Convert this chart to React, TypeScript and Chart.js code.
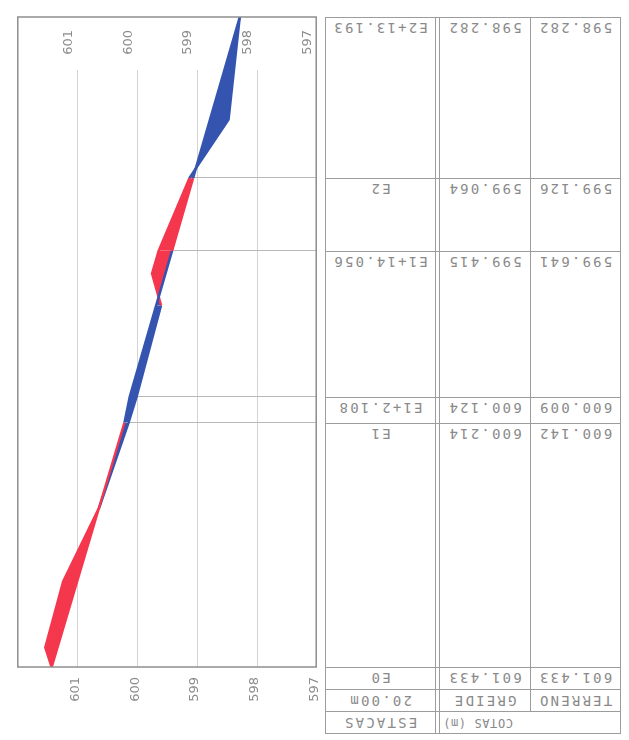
import React, { useEffect, useRef, useState } from "react";
import { Chart, registerables } from "chart.js";

Chart.register(...registerables);

// ---- table (stations) ----
const stationLabels = ["E0", "E1", "E1+2.108", "E1+14.056", "E2", "E2+13.193"];
const stationDist = [0, 20, 22.108, 34.056, 40, 53.193];
const greideAtStations = [601.433, 600.214, 600.124, 599.415, 599.064, 598.282];
const terrenoAtStations = [601.433, 600.142, 600.009, 599.641, 599.126, 598.282];
const headerRow1 = ["ESTACAS", "COTAS (m)"];
const headerRow2 = ["20.00m", "GREIDE", "TERRENO"];

// ---- profile lines ----
const greideDist = [0, 20, 22.108, 34.056, 40, 53.193];
const greideElev = [601.433, 600.214, 600.124, 599.415, 599.064, 598.282];
const terrenoDist = [0, 1.6, 7, 13, 20, 22.108, 29.6, 32.2, 34.056, 40, 44.8, 53.193];
const terrenoElev = [601.433, 601.54, 601.24, 600.64, 600.142, 600.009, 599.6, 599.75, 599.641, 599.126, 598.47, 598.282];

// ---- elevation axis ----
const elevTicks = [597, 598, 599, 600, 601];
const elevMin = 597;
const elevMax = 602;

const RED = "rgb(245, 55, 78)";
const BLUE = "rgb(52, 84, 176)";
const CW = 740;
const CH = 334;

function interp(ds: number[], vs: number[], d: number) {
  for (let i = 0; i < ds.length - 1; i++) {
    if (d >= ds[i] && d <= ds[i + 1]) {
      const t = (d - ds[i]) / (ds[i + 1] - ds[i]);
      return vs[i] + t * (vs[i + 1] - vs[i]);
    }
  }
  return vs[vs.length - 1];
}

const segColor = (ctx: any) => {
  const d = (ctx.p0.parsed.x + ctx.p1.parsed.x) / 2;
  const t = interp(terrenoDist, terrenoElev, d);
  const g = interp(greideDist, greideElev, d);
  return t >= g ? RED : BLUE;
};

const framePlugin = {
  id: "frame",
  beforeDatasetsDraw(chart: any) {
    const { ctx, chartArea: a, scales } = chart;
    const ys = scales.y;
    const xs = scales.x;
    ctx.save();
    ctx.strokeStyle = "#d4d4d4";
    ctx.lineWidth = 1;
    for (const v of elevTicks) {
      const y = Math.round(ys.getPixelForValue(v)) + 0.5;
      ctx.beginPath();
      ctx.moveTo(a.left, y);
      ctx.lineTo(a.right - 53, y);
      ctx.stroke();
    }
    ctx.strokeStyle = "#b8b8b8";
    for (let i = 1; i < stationDist.length - 1; i++) {
      const x = Math.round(xs.getPixelForValue(stationDist[i])) + 0.5;
      const yTop = ys.getPixelForValue(Math.min(greideAtStations[i], terrenoAtStations[i]));
      ctx.beginPath();
      ctx.moveTo(x, a.bottom);
      ctx.lineTo(x, yTop);
      ctx.stroke();
    }
    ctx.restore();
  },
  afterDraw(chart: any) {
    const { ctx, chartArea: a } = chart;
    ctx.save();
    ctx.strokeStyle = "#8e8e8e";
    ctx.lineWidth = 1.5;
    ctx.strokeRect(a.left, a.top, a.right - a.left, a.bottom - a.top);
    ctx.restore();
  },
};

const tickFont = { family: "DejaVu Sans", size: 13 };

export default function App() {
  const canvasRef = useRef<HTMLCanvasElement>(null);
  const [rowsY, setRowsY] = useState<number[] | null>(null);

  useEffect(() => {
    const canvas = canvasRef.current!;
    const chart = new Chart(canvas, {
      type: "line",
      data: {
        datasets: [
          {
            label: "GREIDE",
            data: greideDist.map((d, i) => ({ x: d, y: greideElev[i] })),
            borderColor: BLUE,
            borderWidth: 2.5,
            pointRadius: 0,
            fill: false,
            segment: { borderColor: segColor },
          },
          {
            label: "TERRENO",
            data: terrenoDist.map((d, i) => ({ x: d, y: terrenoElev[i] })),
            borderColor: RED,
            borderWidth: 2.5,
            pointRadius: 0,
            fill: { target: "-1", above: RED, below: BLUE },
            segment: { borderColor: segColor },
          },
        ],
      },
      options: {
        animation: false,
        responsive: false,
        events: [],
        layout: { padding: { left: 0, right: 17, top: 15, bottom: 12 } },
        plugins: { legend: { display: false }, tooltip: { enabled: false } },
        scales: {
          x: { type: "linear", min: 0, max: stationDist[stationDist.length - 1], display: false },
          y: {
            type: "linear",
            position: "left",
            min: elevMin,
            max: elevMax,
            grid: { display: false, drawTicks: false },
            border: { display: false },
            afterBuildTicks: (s: any) => {
              s.ticks = elevTicks.map((v) => ({ value: v }));
            },
            afterFit: (s: any) => {
              s.width = 73;
            },
            ticks: { padding: 10, labelOffset: -2, color: "#8c8c8c", font: tickFont },
          },
          y2: {
            type: "linear",
            position: "right",
            min: elevMin,
            max: elevMax,
            grid: { display: false, drawTicks: false },
            border: { display: false },
            afterBuildTicks: (s: any) => {
              s.ticks = elevTicks.map((v) => ({ value: v }));
            },
            afterFit: (s: any) => {
              s.width = 0;
            },
            ticks: { mirror: true, padding: -13, labelOffset: -9, color: "#8c8c8c", font: tickFont },
          },
        },
      } as any,
      plugins: [framePlugin],
    });
    const xs = chart.scales.x;
    setRowsY(stationDist.map((d) => CW - xs.getPixelForValue(d)));
    return () => chart.destroy();
  }, []);

  const TL = 325;
  const TR = 620;
  const CA1 = 435;
  const CA2 = 439;
  const CBC = 530;
  const RH = 22;
  const lineColor = "#9c9c9c";

  const els: React.ReactNode[] = [];
  if (rowsY) {
    const yE0 = rowsY[0];
    const yTop = rowsY[rowsY.length - 1];
    const yBottom = yE0 + 3 * RH;
    const hLine = (y: number, x1: number, x2: number, k: string) => (
      <div key={k} style={{ position: "absolute", left: x1, top: Math.round(y), width: x2 - x1, height: 1, background: lineColor }} />
    );
    const vLine = (x: number, y1: number, y2: number, k: string) => (
      <div key={k} style={{ position: "absolute", left: x, top: Math.round(y1), width: 1, height: Math.round(y2 - y1), background: lineColor }} />
    );
    els.push(vLine(TL, yTop, yBottom, "vl"));
    els.push(vLine(TR, yTop, yBottom + 1, "vr"));
    els.push(vLine(CA1, yTop, yBottom, "va1"));
    els.push(vLine(CA2, yTop, yBottom, "va2"));
    els.push(vLine(CBC, yTop, yE0 + 2 * RH, "vbc"));
    rowsY.forEach((y, i) => els.push(hLine(y, TL, TR, "h" + i)));
    els.push(hLine(yE0 + RH, TL, TR, "hh1"));
    els.push(hLine(yE0 + 2 * RH, TL, TR, "hh2"));
    els.push(hLine(yBottom, TL, TR, "hh3"));

    const txt = (s: string, left: number, width: number, top: number, k: string, size = 14, spacing = 2.2) => (
      <div
        key={k}
        style={{
          position: "absolute",
          left,
          width,
          top: Math.round(top),
          height: 15,
          lineHeight: "15px",
          textAlign: "center",
          fontFamily: "'DejaVu Sans Mono', monospace",
          fontSize: size,
          letterSpacing: spacing + "px",
          color: "#8a8a8a",
          whiteSpace: "nowrap",
          transform: "rotate(180deg)",
        }}
      >
        {s}
      </div>
    );
    rowsY.forEach((y, i) => {
      els.push(txt(stationLabels[i], TL, CA1 - TL, y + 3, "a" + i));
      els.push(txt(greideAtStations[i].toFixed(3), CA2, CBC - CA2, y + 3, "b" + i));
      els.push(txt(terrenoAtStations[i].toFixed(3), CBC, TR - CBC, y + 3, "c" + i));
    });
    els.push(txt(headerRow2[0], TL, CA1 - TL, yE0 + RH + 4, "r2a"));
    els.push(txt(headerRow2[1], CA2, CBC - CA2, yE0 + RH + 4, "r2b"));
    els.push(txt(headerRow2[2], CBC, TR - CBC, yE0 + RH + 4, "r2c"));
    els.push(txt(headerRow1[0], TL, CA1 - TL, yE0 + 2 * RH + 4, "r3a"));
    els.push(txt(headerRow1[1], 443, 70, yE0 + 2 * RH + 4, "r3b", 12, 0.6));
  }

  return (
    <div style={{ position: "absolute", left: 0, top: 0, width: 629, height: 740, overflow: "hidden", background: "#fff" }}>
      {els}
      <div
        style={{
          position: "absolute",
          left: 0,
          top: 740,
          width: CW,
          height: CH,
          transformOrigin: "0 0",
          transform: "rotate(-90deg)",
        }}
      >
        <canvas ref={canvasRef} width={CW} height={CH} style={{ display: "block", width: CW, height: CH }} />
      </div>
    </div>
  );
}
